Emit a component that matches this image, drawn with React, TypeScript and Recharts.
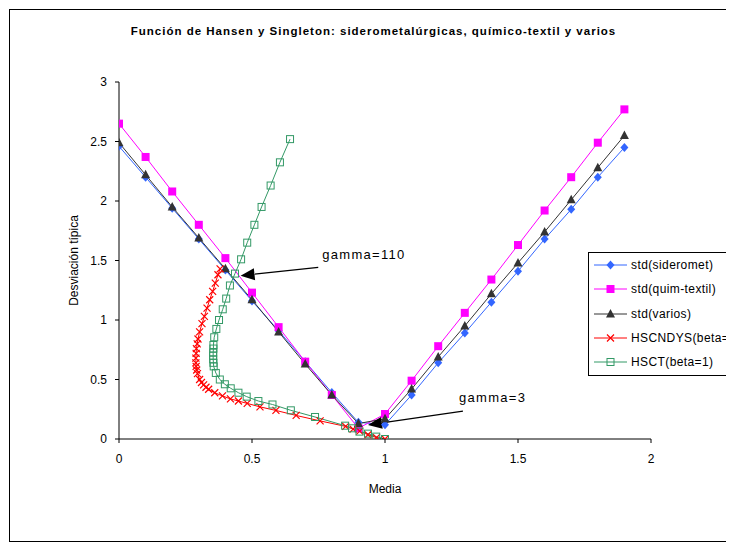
import { ComposedChart, Line, ReferenceLine, XAxis, YAxis } from "recharts";

const STD_MEDIA = [0, 0.1, 0.2, 0.3, 0.4, 0.5, 0.6, 0.7, 0.8, 0.9, 1.0, 1.1, 1.2, 1.3, 1.4, 1.5, 1.6, 1.7, 1.8, 1.9];
const STD_SIDEROMET = [2.46, 2.2, 1.94, 1.68, 1.42, 1.16, 0.91, 0.65, 0.39, 0.14, 0.12, 0.37, 0.64, 0.89, 1.15, 1.41, 1.68, 1.93, 2.2, 2.45];
const STD_QUIM_TEXTIL = [2.65, 2.37, 2.08, 1.8, 1.52, 1.23, 0.94, 0.65, 0.37, 0.09, 0.21, 0.49, 0.78, 1.06, 1.34, 1.63, 1.92, 2.2, 2.49, 2.77];
const STD_VARIOS = [2.49, 2.22, 1.95, 1.69, 1.43, 1.17, 0.9, 0.63, 0.37, 0.13, 0.17, 0.42, 0.69, 0.95, 1.22, 1.48, 1.74, 2.01, 2.28, 2.55];

const HSCNDYS_MEDIA = [0.38, 0.372, 0.362, 0.352, 0.341, 0.331, 0.321, 0.312, 0.303, 0.297, 0.294, 0.291, 0.29, 0.289, 0.289, 0.29, 0.292, 0.295, 0.303, 0.31, 0.318, 0.327, 0.337, 0.36, 0.389, 0.419, 0.449, 0.482, 0.53, 0.59, 0.666, 0.756, 0.852, 0.88, 0.905, 0.936, 0.968, 1.0];
const HSCNDYS_STD = [1.43, 1.38, 1.31, 1.24, 1.17, 1.1, 1.03, 0.97, 0.9, 0.84, 0.8, 0.76, 0.72, 0.68, 0.64, 0.61, 0.58, 0.55, 0.5, 0.475, 0.455, 0.435, 0.418, 0.389, 0.362, 0.337, 0.319, 0.299, 0.27, 0.24, 0.198, 0.152, 0.106, 0.083, 0.066, 0.036, 0.012, 0.0];

const HSCT_MEDIA = [0.643, 0.605, 0.57, 0.536, 0.509, 0.482, 0.459, 0.436, 0.417, 0.403, 0.39, 0.376, 0.366, 0.358, 0.355, 0.355, 0.354, 0.354, 0.354, 0.355, 0.356, 0.364, 0.379, 0.398, 0.42, 0.449, 0.48, 0.524, 0.577, 0.646, 0.737, 0.85, 0.876, 0.904, 0.936, 0.967, 1.0];
const HSCT_STD = [2.52, 2.325, 2.13, 1.95, 1.8, 1.65, 1.51, 1.39, 1.29, 1.18, 1.09, 1.0, 0.925, 0.855, 0.79, 0.76, 0.725, 0.7, 0.67, 0.64, 0.61, 0.555, 0.5, 0.46, 0.426, 0.389, 0.356, 0.319, 0.29, 0.241, 0.185, 0.112, 0.09, 0.062, 0.045, 0.02, 0.0];

const X_TICKS = [0, 0.5, 1, 1.5, 2];
const Y_TICKS = [0, 0.5, 1, 1.5, 2, 2.5, 3];

const ARROW_LABELS = ["gamma=110", "gamma=3"];
const ARROW_FROM_MEDIA = [0.749, 1.293];
const ARROW_FROM_STD = [1.443, 0.235];
const ARROW_TO_MEDIA = [0.457, 0.936];
const ARROW_TO_STD = [1.372, 0.118];

const toPoints = (xs: number[], ys: number[]) => xs.map((x, i) => ({ x, y: ys[i] }));

const SERIES = [
  { name: "std(sideromet)", color: "#3366FF", marker: "diamond", data: toPoints(STD_MEDIA, STD_SIDEROMET) },
  { name: "std(quim-textil)", color: "#FF00FF", marker: "square", data: toPoints(STD_MEDIA, STD_QUIM_TEXTIL) },
  { name: "std(varios)", color: "#333333", marker: "triangle", data: toPoints(STD_MEDIA, STD_VARIOS) },
  { name: "HSCNDYS(beta=1)", color: "#FF0000", marker: "x", data: toPoints(HSCNDYS_MEDIA, HSCNDYS_STD) },
  { name: "HSCT(beta=1)", color: "#339966", marker: "hollow", data: toPoints(HSCT_MEDIA, HSCT_STD) },
];

const FONT = "'Liberation Sans', Arial, sans-serif";

function renderMarker(kind: string, color: string, cx: number, cy: number, key?: string | number) {
  switch (kind) {
    case "diamond":
      return <path key={key} d={`M${cx},${cy - 4.5}L${cx + 4},${cy}L${cx},${cy + 4.5}L${cx - 4},${cy}Z`} fill={color} />;
    case "square":
      return <rect key={key} x={cx - 4} y={cy - 4} width={8} height={8} fill={color} />;
    case "triangle":
      return <path key={key} d={`M${cx},${cy - 5}L${cx + 4.5},${cy + 3.5}L${cx - 4.5},${cy + 3.5}Z`} fill={color} />;
    case "x":
      return (
        <path
          key={key}
          d={`M${cx - 3.5},${cy - 3.5}L${cx + 3.5},${cy + 3.5}M${cx + 3.5},${cy - 3.5}L${cx - 3.5},${cy + 3.5}`}
          stroke={color}
          strokeWidth={1.2}
          fill="none"
        />
      );
    default:
      return <rect key={key} x={cx - 3.5} y={cy - 3.5} width={7} height={7} fill="none" stroke={color} strokeWidth={1} />;
  }
}

// arrow with a filled head at the (x2, y2) end, plus its text
const arrowShape = (label: string, dx: number, dy: number) => (props: any) => {
  const { x1, y1, x2, y2 } = props;
  const len = Math.hypot(x2 - x1, y2 - y1) || 1;
  const ux = (x2 - x1) / len;
  const uy = (y2 - y1) / len;
  const head = 14;
  const half = 6;
  const bx = x2 - ux * head;
  const by = y2 - uy * head;
  return (
    <g>
      <line x1={x1} y1={y1} x2={bx} y2={by} stroke="#000" strokeWidth={1.2} />
      <polygon
        points={`${x2},${y2} ${bx - uy * half},${by + ux * half} ${bx + uy * half},${by - ux * half}`}
        fill="#000"
      />
      <text x={x1 + dx} y={y1 + dy} fontSize={13} letterSpacing={1.3} fill="#000" style={{ fontFamily: FONT }}>
        {label}
      </text>
    </g>
  );
};

const LABEL_OFFSETS = [
  [4, -8],
  [-4, -9],
];

export default function App() {
  return (
    <div style={{ position: "relative", width: 719, height: 534, overflow: "hidden", fontFamily: FONT, background: "#fff" }}>
      <div
        style={{
          position: "absolute",
          top: 16,
          left: 6,
          width: 719,
          textAlign: "center",
          fontSize: 11.5,
          fontWeight: "bold",
          letterSpacing: 1,
          lineHeight: "14px",
        }}
      >
        Función de Hansen y Singleton: siderometalúrgicas, químico-textil y varios
      </div>

      <ComposedChart width={719} height={534} margin={{ top: 74, right: 76, bottom: 73, left: 0 }}>
        <XAxis
          type="number"
          dataKey="x"
          domain={[0, 2]}
          ticks={X_TICKS}
          allowDataOverflow
          height={30}
          stroke="#000"
          tickSize={4}
          tickMargin={11}
          tick={{ fontSize: 12, fill: "#000" }}
          label={{ value: "Media", position: "bottom", offset: 15, fontSize: 12, fill: "#000" }}
        />
        <YAxis
          type="number"
          domain={[0, 3]}
          ticks={Y_TICKS}
          allowDataOverflow
          width={111}
          stroke="#000"
          tickSize={4}
          tickMargin={8}
          tick={{ fontSize: 12, fill: "#000" }}
          label={{
            value: "Desviación típica",
            angle: -90,
            position: "insideLeft",
            offset: 66,
            fontSize: 12,
            fill: "#000",
            style: { textAnchor: "middle" },
          }}
        />
        {SERIES.map((s) => (
          <Line
            key={s.name}
            name={s.name}
            data={s.data}
            dataKey="y"
            type="linear"
            stroke={s.color}
            strokeWidth={1}
            isAnimationActive={false}
            activeDot={false}
            dot={(p: any) => renderMarker(s.marker, s.color, p.cx, p.cy, `${s.name}-${p.index}`)}
          />
        ))}
        {ARROW_LABELS.map((label, i) => (
          <ReferenceLine
            key={label}
            segment={[
              { x: ARROW_FROM_MEDIA[i], y: ARROW_FROM_STD[i] },
              { x: ARROW_TO_MEDIA[i], y: ARROW_TO_STD[i] },
            ]}
            shape={arrowShape(label, LABEL_OFFSETS[i][0], LABEL_OFFSETS[i][1])}
          />
        ))}
      </ComposedChart>

      <div
        style={{
          position: "absolute",
          left: 580,
          top: 244,
          width: 170,
          height: 122,
          border: "1px solid #000",
          background: "#fff",
        }}
      >
        {SERIES.map((s, i) => (
          <div
            key={s.name}
            style={{ position: "absolute", left: 0, top: i * 24.3, height: 24, display: "flex", alignItems: "center" }}
          >
            <svg width={42} height={24}>
              <line x1={5} x2={38} y1={12} y2={12} stroke={s.color} strokeWidth={1} />
              {renderMarker(s.marker, s.color, 21.5, 12)}
            </svg>
            <span style={{ fontSize: 12, letterSpacing: 0.4, whiteSpace: "nowrap" }}>{s.name}</span>
          </div>
        ))}
      </div>

      <div
        style={{
          position: "absolute",
          left: 1,
          top: 1,
          width: 718,
          height: 533,
          boxSizing: "border-box",
          border: "1px solid #000",
          pointerEvents: "none",
        }}
      />
    </div>
  );
}
